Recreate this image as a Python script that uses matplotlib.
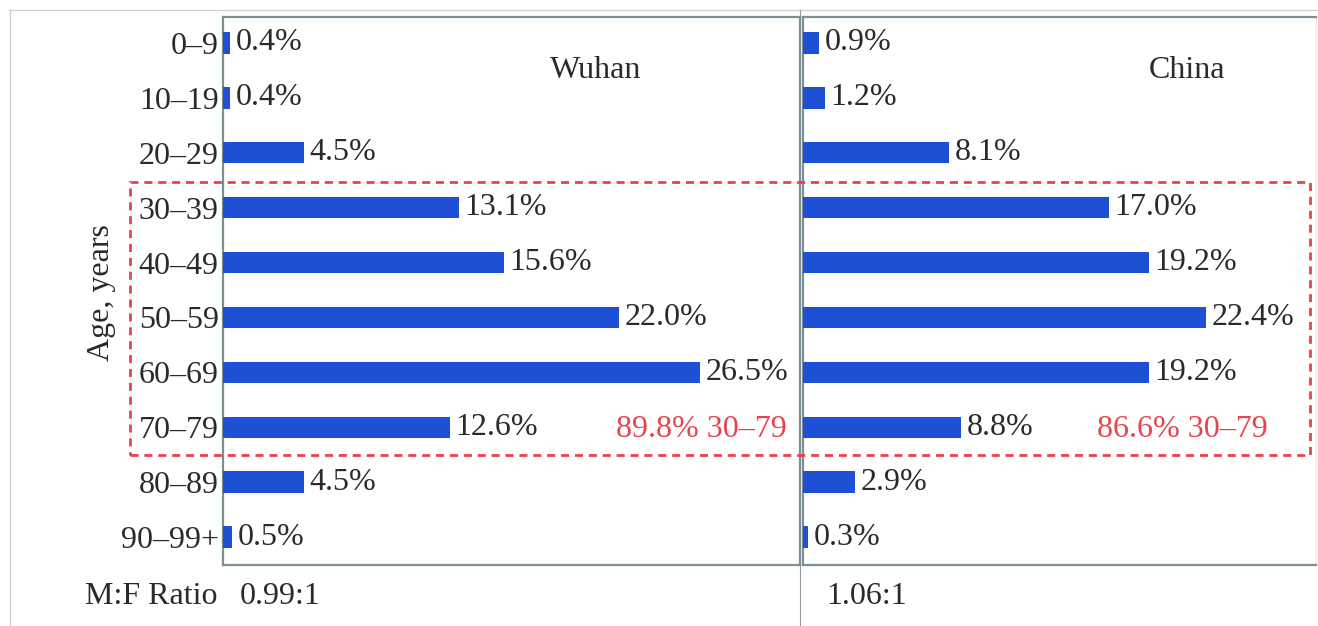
import matplotlib
matplotlib.use("Agg")
import matplotlib.pyplot as plt
from matplotlib.patches import Rectangle
from matplotlib.lines import Line2D

# ---- data ----
age_groups = ['0–9', '10–19', '20–29', '30–39', '40–49', '50–59',
              '60–69', '70–79', '80–89', '90–99+']
wuhan_pct = [0.4, 0.4, 4.5, 13.1, 15.6, 22.0, 26.5, 12.6, 4.5, 0.5]
china_pct = [0.9, 1.2, 8.1, 17.0, 19.2, 22.4, 19.2, 8.8, 2.9, 0.3]
panel_titles = ['Wuhan', 'China']
mf_ratios = ['0.99:1', '1.06:1']
highlight_notes = ['89.8% 30–79', '86.6% 30–79']

W, H = 1318, 626
DPI = 100
plt.rcParams['font.family'] = ['Liberation Serif', 'DejaVu Serif']
FS = 23
TXT = '#2a2a2a'
BLUE = '#1f4fd4'
RED = '#e8434a'
SPINE = '#7d8f94'

fig = plt.figure(figsize=(W / DPI, H / DPI), dpi=DPI)
fig.patch.set_facecolor('white')


def fx(px):
    return px / W


def fy(py):
    return 1 - py / H


def box(x0, y0, x1, y1):
    return [fx(x0), fy(y1), fx(x1) - fx(x0), fy(y0) - fy(y1)]


PXPCT = 18.0  # pixels per percent
top, bot = 17, 565
left_ax = fig.add_axes(box(223, top, 800, bot))
right_ax = fig.add_axes(box(803, top, 1316, bot))

ypos = list(range(len(age_groups)))
for ax, vals, x0, x1 in [(left_ax, wuhan_pct, 223, 800), (right_ax, china_pct, 803, 1316)]:
    ax.barh(ypos, vals, height=0.39, color=BLUE, zorder=3)
    ax.set_xlim(0, (x1 - x0) / PXPCT)
    ax.set_ylim(9 + 28 / 55, -26 / 55)
    ax.set_xticks([])
    for y, v in zip(ypos, vals):
        ax.annotate(f'{v:.1f}%', xy=(v, y), xytext=(4, 0), textcoords='offset points',
                    ha='left', va='center', fontsize=FS, color=TXT)
    for s in ax.spines.values():
        s.set_color(SPINE)
        s.set_linewidth(1.6)

left_ax.set_yticks(ypos)
left_ax.set_yticklabels(age_groups, fontsize=FS, color=TXT)
left_ax.tick_params(axis='y', length=0, pad=3)
right_ax.set_yticks([])
right_ax.spines['right'].set_color('#e6e9ea')
right_ax.spines['right'].set_linewidth(1.0)
left_ax.spines['right'].set_visible(False)

left_ax.text(0.646, 0.903, panel_titles[0], transform=left_ax.transAxes,
             ha='center', va='center', fontsize=FS, color=TXT)
right_ax.text(0.749, 0.903, panel_titles[1], transform=right_ax.transAxes,
              ha='center', va='center', fontsize=FS, color=TXT)

left_ax.text(31.3, 7.05, highlight_notes[0], ha='right', va='center', fontsize=FS, color=RED)
right_ax.text(25.8, 7.05, highlight_notes[1], ha='right', va='center', fontsize=FS, color=RED)

# thin outer frame lines
fig.add_artist(Line2D([fx(9), fx(W)], [fy(9.5), fy(9.5)], color='#cfcfcf', lw=0.9))
fig.add_artist(Line2D([fx(9.5), fx(9.5)], [fy(9.5), fy(H)], color='#cfcfcf', lw=0.9))
fig.add_artist(Line2D([fx(800), fx(800)], [fy(9.5), fy(H)], color='#9a9a9a', lw=0.8))
fig.add_artist(Line2D([fx(800), fx(800)], [fy(top), fy(bot)], color=SPINE, lw=1.6))

# red dashed highlight box
fig.add_artist(Rectangle((fx(130), fy(455)), fx(1310) - fx(130), fy(182) - fy(455),
                         transform=fig.transFigure, fill=False, edgecolor=RED,
                         lw=2.0, linestyle=(0, (2.9, 2.1)), zorder=5))

fig.text(fx(102), fy(293), 'Age, years', rotation=90, ha='center', va='center',
         fontsize=FS, color=TXT)
fig.text(fx(85), fy(597), 'M:F Ratio', ha='left', va='center', fontsize=FS, color=TXT)
fig.text(fx(240), fy(597), mf_ratios[0], ha='left', va='center', fontsize=FS, color=TXT)
fig.text(fx(826), fy(597), mf_ratios[1], ha='left', va='center', fontsize=FS, color=TXT)

fig.savefig('out.png', dpi=DPI, facecolor='white')
